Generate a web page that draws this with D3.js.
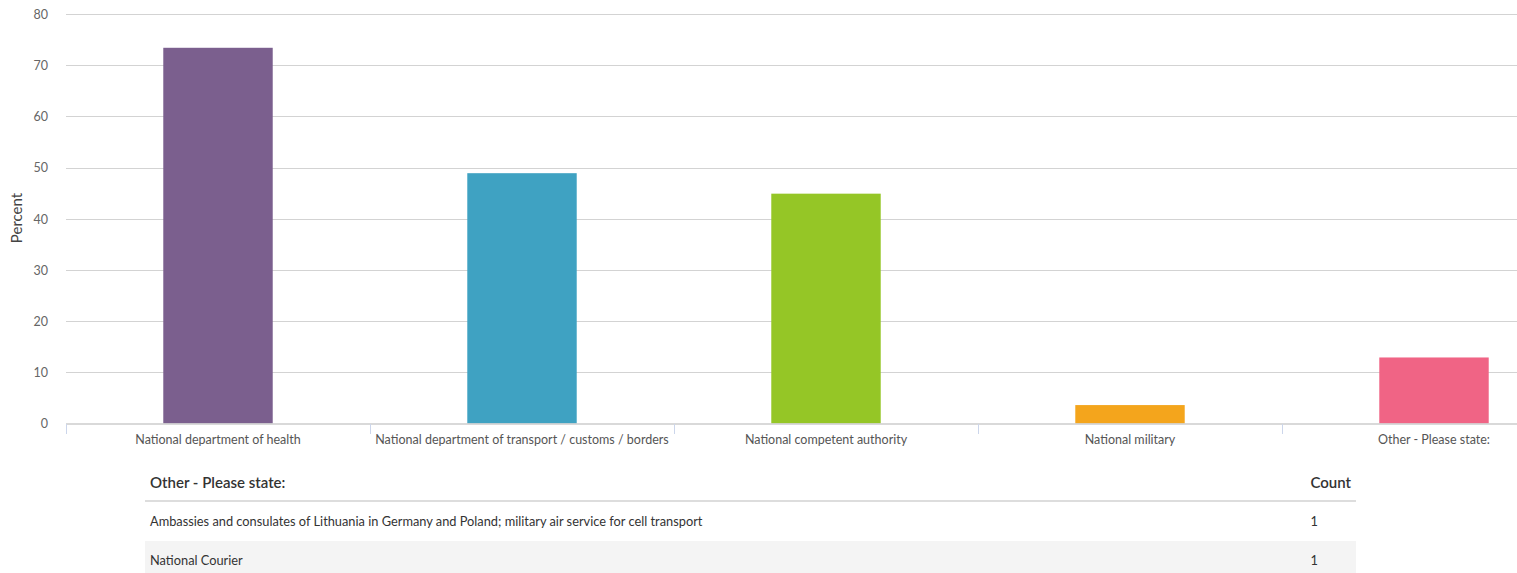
<!DOCTYPE html>
<html>
<head>
<meta charset="utf-8">
<script src="https://cdn.jsdelivr.net/npm/d3@7/dist/d3.min.js"></script>
<style>
  html, body { margin: 0; padding: 0; background: #fff; overflow: hidden; }
  body { width: 1517px; height: 573px; position: relative; font-family: Lato, "Open Sans", sans-serif; }
  svg { position: absolute; left: 0; top: 0; }
  table { position: absolute; left: 145px; top: 466px; width: 1211px; border-collapse: collapse; font-family: Lato, sans-serif; }
  th { text-align: left; font-size: 15px; font-weight: 600; color: #333; padding: 7px 5px 9px 5px; border-bottom: 2px solid #ddd; }
  td { font-size: 12.8px; line-height: 15px; color: #333; padding: 12px 5px 12px 5px; height: 15px; }
  tr.alt td { background: #f4f4f4; }
  th.cnt, td.cnt { width: 40px; padding-left: 0; }
</style>
</head>
<body>
<svg id="chart" width="1517" height="460"></svg>
<table id="tbl"></table>
<script>
const categories = [
  "National department of health",
  "National department of transport / customs / borders",
  "National competent authority",
  "National military",
  "Other - Please state:"
];
const values = [73.4, 48.9, 44.9, 3.6, 12.9];
const colors = ["#7b5f8e", "#3fa2c2", "#95c626", "#f4a51c", "#f06485"];
const yTicks = [0, 10, 20, 30, 40, 50, 60, 70, 80];
const tableHeader = ["Other - Please state:", "Count"];
const tableAnswers = [
  "Ambassies and consulates of Lithuania in Germany and Poland; military air service for cell transport",
  "National Courier"
];
const tableCounts = [1, 1];

const svg = d3.select("#chart");
const left = 66, bandW = 304;
const right = left + bandW * categories.length;
const y = d3.scaleLinear().domain([0, 80]).range([423.5, 14]);
const x = d3.scaleBand().domain(categories).range([left, right]).paddingInner(0.64).paddingOuter(0.32);

// grid
svg.append("g").selectAll("line").data(yTicks.filter(d => d > 0)).join("line")
  .attr("x1", left).attr("x2", 1517)
  .attr("y1", d => Math.round(y(d)) + 0.5).attr("y2", d => Math.round(y(d)) + 0.5)
  .attr("stroke", "#d3d3d3").attr("stroke-width", 1);

// y axis labels
const yAxis = d3.axisLeft(y).tickValues(yTicks).tickSize(0).tickPadding(0);
const gy = svg.append("g").attr("transform", "translate(48,0)").call(yAxis);
gy.select(".domain").remove();
gy.selectAll("text").attr("font-family", "Lato, sans-serif").attr("font-size", 12.5).attr("fill", "#666").attr("dy", "0.35em");

// bars
svg.append("g").selectAll("rect").data(values).join("rect")
  .attr("x", (d, i) => x(categories[i]))
  .attr("width", x.bandwidth())
  .attr("y", d => y(d))
  .attr("height", d => y(0) - y(d))
  .attr("fill", (d, i) => colors[i]);

// x axis
const xBoundary = d3.scaleLinear().domain([0, categories.length]).range([left, right]);
const gx = svg.append("g");
gx.append("line").attr("x1", left).attr("x2", 1517).attr("y1", 424).attr("y2", 424).attr("stroke", "#ccc").attr("stroke-width", 1.5);
gx.selectAll("line.tk").data(d3.range(categories.length + 1)).join("line").attr("class", "tk")
  .attr("x1", d => Math.round(xBoundary(d)) + 0.5).attr("x2", d => Math.round(xBoundary(d)) + 0.5)
  .attr("y1", 424).attr("y2", 434).attr("stroke", "#ccd6eb");
gx.selectAll("text").data(categories).join("text")
  .attr("x", d => x(d) + x.bandwidth() / 2).attr("y", 444)
  .attr("text-anchor", "middle").attr("font-family", "Lato, sans-serif").attr("font-size", 12.5).attr("fill", "#555")
  .text(d => d);

// y title
svg.append("text").attr("transform", "translate(22,218) rotate(-90)")
  .attr("text-anchor", "middle").attr("font-family", "Lato, sans-serif").attr("font-size", 15).attr("fill", "#444")
  .text("Percent");

// table
const tbl = d3.select("#tbl");
const hr = tbl.append("tr");
hr.append("th").text(tableHeader[0]);
hr.append("th").attr("class", "cnt").text(tableHeader[1]);
tableAnswers.forEach((a, i) => {
  const tr = tbl.append("tr").attr("class", i % 2 ? "alt" : null);
  tr.append("td").text(a);
  tr.append("td").attr("class", "cnt").text(tableCounts[i]);
});
</script>
</body>
</html>
